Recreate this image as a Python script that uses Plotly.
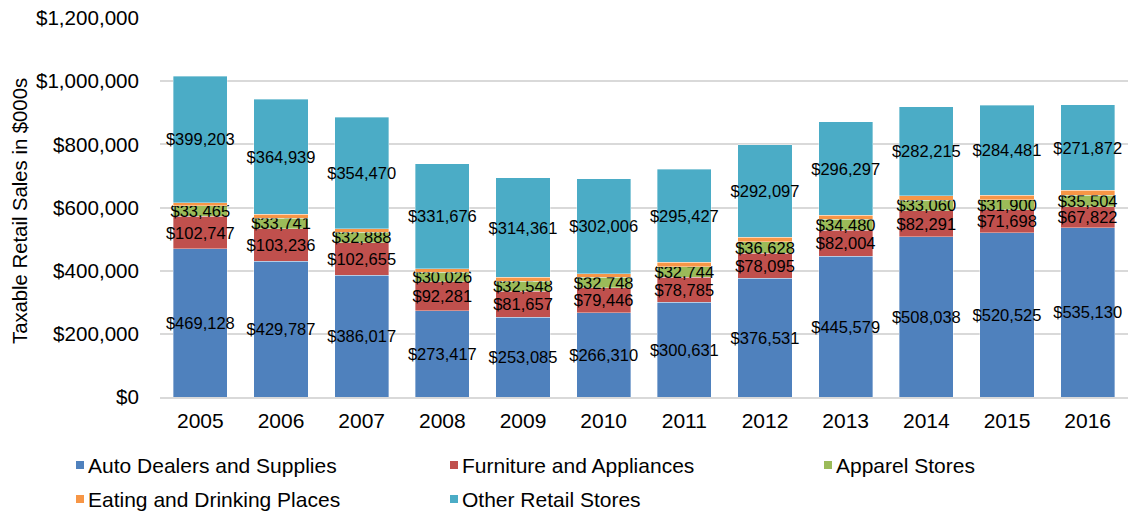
import plotly.graph_objects as go

years = ["2005", "2006", "2007", "2008", "2009", "2010",
         "2011", "2012", "2013", "2014", "2015", "2016"]

auto_dealers = [469128, 429787, 386017, 273417, 253085, 266310,
                300631, 376531, 445579, 508038, 520525, 535130]
furniture = [102747, 103236, 102655, 92281, 81657, 79446,
             78785, 78095, 82004, 82291, 71698, 67822]
apparel = [33465, 33741, 32888, 30026, 32548, 32748,
           32744, 36628, 34480, 33060, 31900, 35504]
eating_drinking = [10500, 11300, 10500, 10700, 11800, 11200,
                   14200, 14800, 12800, 14000, 15200, 15400]
other_retail = [399203, 364939, 354470, 331676, 314361, 302006,
                295427, 292097, 296297, 282215, 284481, 271872]

series_names = ["Auto Dealers and Supplies", "Furniture and Appliances",
                "Apparel Stores", "Eating and Drinking Places",
                "Other Retail Stores"]
series_values = [auto_dealers, furniture, apparel, eating_drinking, other_retail]
series_colors = ["#4F81BD", "#C0504D", "#9BBB59", "#F79646", "#4BACC6"]
series_labeled = [True, True, True, False, True]

FONT = "Liberation Sans, Arial, sans-serif"

fig = go.Figure()
for name, vals, color, labeled in zip(series_names, series_values,
                                      series_colors, series_labeled):
    fig.add_trace(go.Bar(
        x=years, y=vals, name=name,
        marker=dict(color=color, line=dict(color="rgba(255,255,255,0.6)", width=0.6)),
        text=[f"${v:,}" for v in vals] if labeled else None,
        textposition="inside" if labeled else "none",
        insidetextanchor="middle",
        textangle=0,
        constraintext="none",
        textfont=dict(family=FONT, size=16.5, color="#000000"),
        showlegend=False,
        hoverinfo="x+y+name",
    ))

# plot area in pixels
L, R, T, B = 160, 1128, 18, 397
W, H = R - L, B - T

fig.update_layout(
    width=1130, height=512,
    barmode="stack", bargap=0.33,
    margin=dict(l=L, r=1130 - R, t=T, b=512 - B),
    paper_bgcolor="white", plot_bgcolor="white",
    font=dict(family=FONT, color="#000000"),
    uniformtext=dict(mode=False),
    xaxis=dict(
        showline=True, linecolor="#D9D9D9", linewidth=1.5,
        tickfont=dict(size=21), ticks="", ticklabelstandoff=4,
    ),
    yaxis=dict(
        range=[0, 1200000], dtick=200000,
        tickprefix="$", tickformat=",",
        tickfont=dict(size=20.6), ticklabelstandoff=20,
        showgrid=True, gridcolor="#D9D9D9", gridwidth=1.5,
        zeroline=False,
    ),
)

# y-axis title
fig.add_annotation(xref="paper", yref="paper",
                   x=(20 - L) / W, y=(B - 211) / H,
                   xanchor="center", yanchor="middle", showarrow=False,
                   textangle=-90, text="Taxable Retail Sales in $000s",
                   font=dict(size=20.3, family=FONT, color="#000000"))

# legend drawn as swatches + labels in two rows
legend_cols = [76, 450, 824]
legend_rows = [465, 499]
slots = [(0, 0), (0, 1), (0, 2), (1, 0), (1, 1)]
for (r, c), name, color in zip(slots, series_names, series_colors):
    px, py = legend_cols[c], legend_rows[r]
    fig.add_shape(type="rect", xref="paper", yref="paper",
                  x0=(px - L) / W, x1=(px + 8 - L) / W,
                  y0=(B - (py + 4)) / H, y1=(B - (py - 4)) / H,
                  fillcolor=color, line=dict(width=0))
    fig.add_annotation(xref="paper", yref="paper",
                       x=(px + 10 - L) / W, y=(B - py) / H,
                       xanchor="left", yanchor="middle", showarrow=False,
                       text=name, font=dict(size=21, family=FONT, color="#000000"))

fig.write_html("out.html")
